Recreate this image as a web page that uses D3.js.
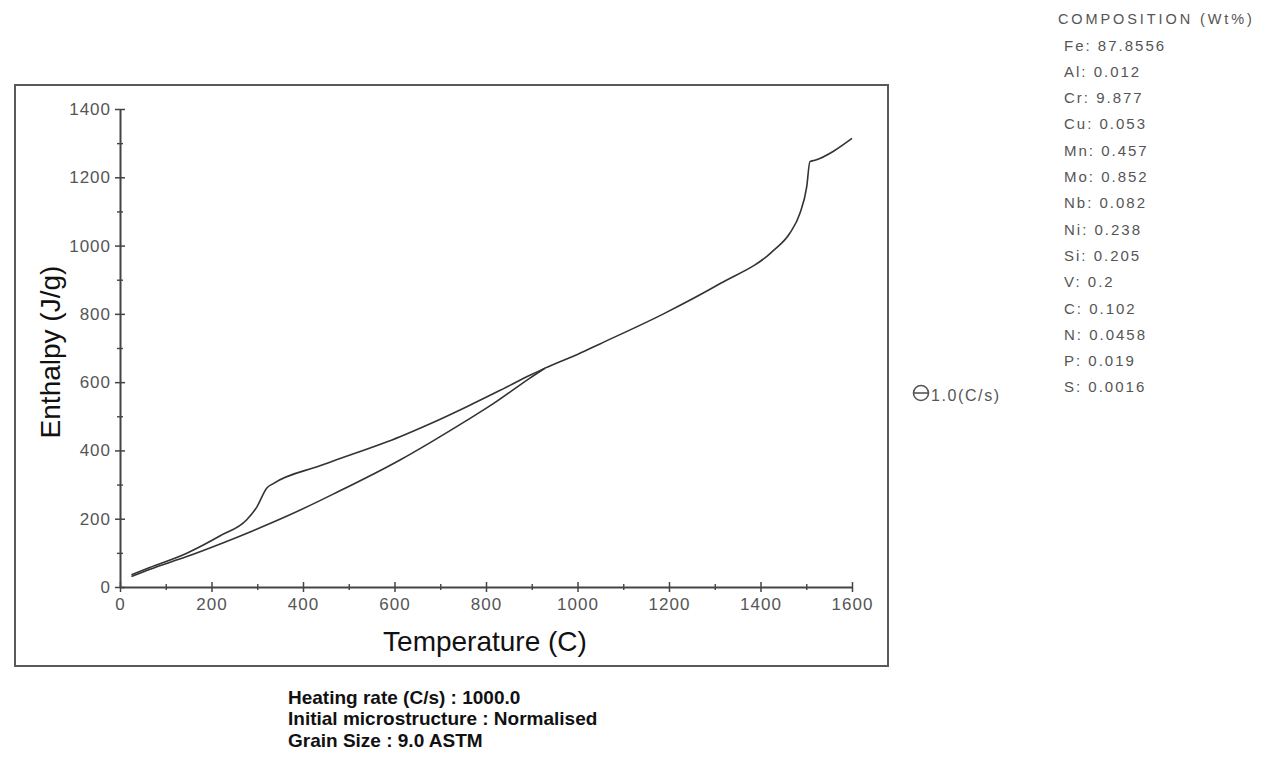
<!DOCTYPE html>
<html>
<head>
<meta charset="utf-8">
<script src="https://cdn.jsdelivr.net/npm/d3@7"></script>
<style>
  html, body { margin: 0; padding: 0; background: #fff; }
  svg { display: block; }
</style>
</head>
<body>
<svg id="chart" width="1263" height="760"></svg>
<script>
// Enthalpy curve, heating branch (with the low-temperature step) and the common high-temperature part
const upperTemp = [25, 65, 146, 219, 277, 299, 321, 335, 437, 466, 612, 678, 758, 831, 896, 929, 1001, 1049, 1188, 1311, 1428, 1464, 1486, 1501, 1508, 1519, 1600];
const upperEnth = [36, 57, 99, 150, 197, 234, 290, 303, 355, 369, 440, 478, 528, 576, 620, 641, 682, 712, 800, 888, 985, 1036, 1094, 1172, 1246, 1250, 1314];

// Lower branch, joining the upper one near 930 C
const lowerTemp = [25, 66, 146, 219, 291, 364, 437, 466, 612, 678, 758, 816, 896, 929];
const lowerEnth = [31, 52, 89, 126, 165, 207, 253, 272, 372, 423, 488, 537, 612, 641];

const xTicks = [0, 200, 400, 600, 800, 1000, 1200, 1400, 1600];
const xMinor = [100, 300, 500, 700, 900, 1100, 1300, 1500];
const yTicks = [0, 200, 400, 600, 800, 1000, 1200, 1400];
const yMinor = [100, 300, 500, 700, 900, 1100, 1300];

const compElements = ["Fe", "Al", "Cr", "Cu", "Mn", "Mo", "Nb", "Ni", "Si", "V", "C", "N", "P", "S"];
const compValues = ["87.8556", "0.012", "9.877", "0.053", "0.457", "0.852", "0.082", "0.238", "0.205", "0.2", "0.102", "0.0458", "0.019", "0.0016"];

const conditions = [
  "Heating rate (C/s) : 1000.0",
  "Initial microstructure : Normalised",
  "Grain Size : 9.0 ASTM"
];
const legendLabel = "1.0(C/s)";

const FONT = "'Liberation Sans', Arial, sans-serif";
const svg = d3.select("#chart");

svg.append("rect").attr("width", 1263).attr("height", 760).attr("fill", "#fff");

// outer frame of the plot panel
svg.append("rect")
  .attr("x", 15).attr("y", 85).attr("width", 873).attr("height", 581)
  .attr("fill", "none").attr("stroke", "#5a5a5a").attr("stroke-width", 2);

const x = d3.scaleLinear().domain([0, 1600]).range([120, 852]);
const y = d3.scaleLinear().domain([0, 1400]).range([587, 109]);
const fmt = d3.format("d");

// minor ticks
const yMinorAxis = svg.append("g").attr("transform", `translate(${x(0)},0)`)
  .call(d3.axisLeft(y).tickValues(yMinor).tickFormat("").tickSize(3));
yMinorAxis.select(".domain").remove();
yMinorAxis.selectAll(".tick line").attr("x1", 3).attr("stroke", "#444").attr("stroke-width", 1.4);

const xMinorAxis = svg.append("g").attr("transform", `translate(0,${y(0)})`)
  .call(d3.axisBottom(x).tickValues(xMinor).tickFormat("").tickSize(3));
xMinorAxis.select(".domain").remove();
xMinorAxis.selectAll(".tick line").attr("y1", -3).attr("stroke", "#444").attr("stroke-width", 1.4);

// major axes
const yAxis = svg.append("g").attr("transform", `translate(${x(0)},0)`)
  .call(d3.axisLeft(y).tickValues(yTicks).tickFormat(fmt).tickSizeInner(5).tickSizeOuter(0).tickPadding(4));
yAxis.select(".domain").attr("stroke", "#444").attr("stroke-width", 2);
yAxis.selectAll(".tick line").attr("x1", 5).attr("stroke", "#444").attr("stroke-width", 1.5);
yAxis.selectAll(".tick text")
  .attr("font-family", FONT).attr("font-size", 17).attr("fill", "#555")
  .attr("letter-spacing", 1);

const xAxis = svg.append("g").attr("transform", `translate(0,${y(0)})`)
  .call(d3.axisBottom(x).tickValues(xTicks).tickFormat(fmt).tickSizeInner(5).tickSizeOuter(0).tickPadding(6));
xAxis.select(".domain").attr("stroke", "#444").attr("stroke-width", 2);
xAxis.selectAll(".tick line").attr("y1", -5).attr("stroke", "#444").attr("stroke-width", 1.5);
xAxis.selectAll(".tick text")
  .attr("font-family", FONT).attr("font-size", 17).attr("fill", "#555")
  .attr("letter-spacing", 1);

// axis titles
svg.append("text")
  .attr("x", 485).attr("y", 651)
  .attr("text-anchor", "middle")
  .attr("font-family", FONT).attr("font-size", 28).attr("fill", "#111")
  .text("Temperature (C)");

svg.append("text")
  .attr("transform", "translate(60,352) rotate(-90)")
  .attr("text-anchor", "middle")
  .attr("font-family", FONT).attr("font-size", 28).attr("fill", "#111")
  .text("Enthalpy (J/g)");

// curves
const line = d3.line()
  .x(d => x(d[0]))
  .y(d => y(d[1]))
  .curve(d3.curveMonotoneX);

const upper = upperTemp.map((t, i) => [t, upperEnth[i]]);
const lower = lowerTemp.map((t, i) => [t, lowerEnth[i]]);

svg.append("g").selectAll("path")
  .data([lower, upper])
  .join("path")
  .attr("d", line)
  .attr("fill", "none")
  .attr("stroke", "#333")
  .attr("stroke-width", 1.6)
  .attr("stroke-linejoin", "round");

// legend
const lg = svg.append("g").attr("transform", "translate(921,393)");
lg.append("circle").attr("r", 7.5).attr("fill", "none").attr("stroke", "#555").attr("stroke-width", 1.6);
lg.append("line").attr("x1", -8).attr("x2", 8).attr("stroke", "#555").attr("stroke-width", 1.6);
lg.append("text")
  .attr("x", 10).attr("y", 2).attr("dominant-baseline", "central")
  .attr("font-family", FONT).attr("font-size", 16).attr("fill", "#555")
  .attr("letter-spacing", 1.6)
  .text(legendLabel);

// composition block
const comp = svg.append("g").attr("font-family", FONT).attr("fill", "#555");
comp.append("text")
  .attr("x", 1058).attr("y", 19).attr("dominant-baseline", "central")
  .attr("font-size", 14.5).attr("letter-spacing", 2.9)
  .text("COMPOSITION (Wt%)");
comp.selectAll("text.el")
  .data(compElements)
  .join("text")
  .attr("class", "el")
  .attr("x", 1064)
  .attr("y", (d, i) => 45 + i * 26.3)
  .attr("dominant-baseline", "central")
  .attr("font-size", 15).attr("letter-spacing", 2)
  .text((d, i) => `${d}: ${compValues[i]}`);

// run conditions under the panel
svg.append("g").selectAll("text")
  .data(conditions)
  .join("text")
  .attr("x", 288)
  .attr("y", (d, i) => 697 + i * 21.5)
  .attr("dominant-baseline", "central")
  .attr("font-family", FONT).attr("font-size", 19).attr("font-weight", "bold").attr("fill", "#111")
  .text(d => d);
</script>
</body>
</html>
